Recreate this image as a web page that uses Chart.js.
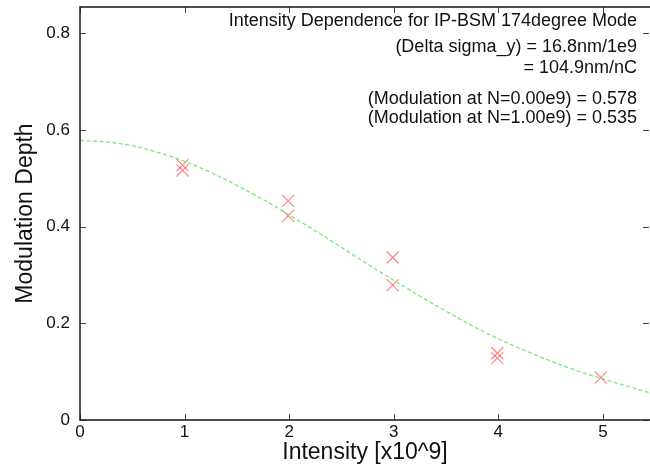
<!DOCTYPE html>
<html>
<head>
<meta charset="utf-8">
<script src="https://cdn.jsdelivr.net/npm/chart.js@4.4.1/dist/chart.umd.min.js"></script>
<style>
  html, body { margin: 0; padding: 0; background: #fff; }
  #wrap { width: 650px; height: 466px; position: relative; }
</style>
</head>
<body>
<div id="wrap"><canvas id="c" width="650" height="466"></canvas></div>
<script>
// ---- data ----
const measX = [0.98, 0.98, 1.99, 1.99, 2.99, 2.99, 3.99, 3.99, 4.98];
const measY = [0.527, 0.516, 0.453, 0.422, 0.336, 0.279, 0.138, 0.128, 0.0875];

const fitX = [0, 0.25, 0.5, 0.75, 1.0, 1.25, 1.5, 1.75, 2.0, 2.25, 2.5, 2.75, 3.0, 3.25, 3.5, 3.75, 4.0, 4.25, 4.5, 4.75, 5.0, 5.25, 5.45];
const fitY = [0.578, 0.575, 0.567, 0.553, 0.535, 0.512, 0.485, 0.456, 0.424, 0.391, 0.357, 0.322, 0.289, 0.256, 0.225, 0.195, 0.168, 0.144, 0.122, 0.102, 0.085, 0.069, 0.056];

const xTicks = [0, 1, 2, 3, 4, 5];
const yTicks = [0, 0.2, 0.4, 0.6, 0.8];
const xRange = [0, 5.45];
const yRange = [0, 0.854];

const xTitle = 'Intensity [x10^9]';
const yTitle = 'Modulation Depth';
const noteLines = [
  'Intensity Dependence for IP-BSM 174degree Mode',
  '(Delta sigma_y) = 16.8nm/1e9',
  '= 104.9nm/nC',
  '(Modulation at N=0.00e9) = 0.578',
  '(Modulation at N=1.00e9) = 0.535'
];

const FONT = "'Liberation Sans', Arial, Helvetica, sans-serif";

function zeroPad(s) {
  s.paddingTop = 0; s.paddingBottom = 0; s.paddingLeft = 0; s.paddingRight = 0;
}

const framePlugin = {
  id: 'frame',
  afterDraw(chart) {
    const ctx = chart.ctx;
    const a = chart.chartArea;
    const xs = chart.scales.x, ys = chart.scales.y;
    ctx.save();
    // inward tick marks
    ctx.strokeStyle = '#444';
    ctx.lineWidth = 1;
    const tl = 6;
    xTicks.forEach(v => {
      const px = Math.round(xs.getPixelForValue(v)) + 0.5;
      ctx.beginPath();
      ctx.moveTo(px, a.bottom); ctx.lineTo(px, a.bottom - tl);
      ctx.moveTo(px, a.top); ctx.lineTo(px, a.top + tl);
      ctx.stroke();
    });
    yTicks.forEach(v => {
      const py = Math.round(ys.getPixelForValue(v)) + 0.5;
      ctx.beginPath();
      ctx.moveTo(a.left, py); ctx.lineTo(a.left + tl, py);
      ctx.moveTo(a.right - 1, py); ctx.lineTo(a.right - 1 - tl, py);
      ctx.stroke();
    });
    // frame
    ctx.strokeStyle = '#222';
    ctx.lineWidth = 1.6;
    ctx.strokeRect(a.left, a.top, a.right - a.left + 2, a.bottom - a.top);
    // annotation text
    ctx.fillStyle = '#111';
    ctx.font = '18px ' + FONT;
    ctx.textAlign = 'right';
    ctx.textBaseline = 'alphabetic';
    const baselines = [26, 52, 73, 104, 123];
    noteLines.forEach((t, i) => ctx.fillText(t, 637, baselines[i]));
    // axis titles
    ctx.font = '23px ' + FONT;
    ctx.textAlign = 'center';
    ctx.fillText(xTitle, (a.left + a.right) / 2, 459);
    ctx.translate(32, (a.top + a.bottom) / 2);
    ctx.rotate(-Math.PI / 2);
    ctx.fillText(yTitle, 0, 0);
    ctx.restore();
  }
};

new Chart(document.getElementById('c'), {
  type: 'scatter',
  data: {
    datasets: [
      {
        label: 'fit',
        type: 'line',
        data: fitX.map((x, i) => ({ x: x, y: fitY[i] })),
        borderColor: 'rgba(100,235,100,0.9)',
        borderWidth: 1.3,
        borderDash: [4, 2.5],
        pointRadius: 0,
        fill: false,
        cubicInterpolationMode: 'monotone'
      },
      {
        label: 'data',
        data: measX.map((x, i) => ({ x: x, y: measY[i] })),
        pointStyle: 'crossRot',
        pointRadius: 8.5,
        pointBorderWidth: 1.2,
        borderColor: 'rgba(255,80,80,0.7)',
        backgroundColor: 'rgba(255,80,80,0.7)'
      }
    ]
  },
  options: {
    responsive: false,
    animation: false,
    devicePixelRatio: 1,
    layout: { autoPadding: false, padding: { top: 7, right: 0, left: 0, bottom: 0 } },
    plugins: { legend: { display: false }, tooltip: { enabled: false } },
    clip: false,
    scales: {
      x: {
        type: 'linear',
        min: xRange[0], max: xRange[1],
        grid: { display: false, drawTicks: false },
        border: { display: false },
        afterFit(s) { s.height = 46; zeroPad(s); },
        afterBuildTicks(s) { s.ticks = xTicks.map(v => ({ value: v })); },
        ticks: {
          padding: 2,
          color: '#111',
          font: { family: FONT, size: 17 },
          callback: v => String(v)
        }
      },
      y: {
        type: 'linear',
        min: yRange[0], max: yRange[1],
        grid: { display: false, drawTicks: false },
        border: { display: false },
        afterFit(s) { s.width = 80; zeroPad(s); },
        afterBuildTicks(s) { s.ticks = yTicks.map(v => ({ value: v })); },
        ticks: {
          padding: 10,
          color: '#111',
          font: { family: FONT, size: 17 },
          callback: v => (v === 0 ? '0' : v.toFixed(1))
        }
      }
    }
  },
  plugins: [framePlugin]
});
</script>
</body>
</html>
